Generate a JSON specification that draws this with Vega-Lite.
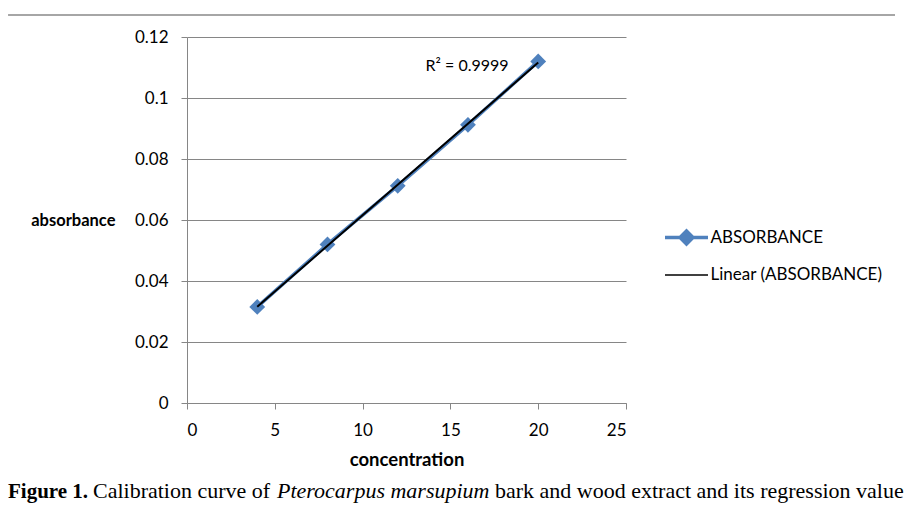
{
  "$schema": "https://vega.github.io/schema/vega-lite/v6.json",
  "width": 439,
  "height": 366,
  "autosize": {"type": "none"},
  "padding": {"left": 187, "top": 37, "right": 282, "bottom": 107},
  "background": "white",
  "config": {"view": {"stroke": null}},
  "layer": [
    {
      "data": {"values": [
        {"concentration": 4, "absorbance": 0.0315, "series": "ABSORBANCE"},
        {"concentration": 8, "absorbance": 0.052, "series": "ABSORBANCE"},
        {"concentration": 12, "absorbance": 0.0712, "series": "ABSORBANCE"},
        {"concentration": 16, "absorbance": 0.0912, "series": "ABSORBANCE"},
        {"concentration": 20, "absorbance": 0.112, "series": "ABSORBANCE"}
      ]},
      "layer": [
        {
          "mark": {"type": "line", "strokeWidth": 3.5, "point": {"shape": "diamond", "size": 250, "filled": true, "opacity": 1}},
          "encoding": {
            "x": {"field": "concentration", "type": "quantitative", "scale": {"domain": [0, 25], "nice": false},
              "axis": {"values": [0, 5, 10, 15, 20, 25], "grid": false, "title": "concentration", "titleFont": "Lato", "titleFontSize": 18.5, "titleFontWeight": "bold", "titleColor": "#000", "titlePadding": 12,
                "labelFont": "Lato", "labelFontSize": 17, "labelColor": "#000", "labelPadding": 13, "tickSize": 6, "tickColor": "#868686", "domainColor": "#868686", "domainWidth": 1}},
            "y": {"field": "absorbance", "type": "quantitative", "scale": {"domain": [0, 0.12], "nice": false},
              "axis": {"values": [0, 0.02, 0.04, 0.06, 0.08, 0.1, 0.12], "format": "~g", "grid": true, "gridColor": "#868686", "gridWidth": 1, "title": "absorbance", "titleAngle": 0, "titleAlign": "right", "titleBaseline": "middle", "titleX": -72, "titleY": 183, "titleFont": "Lato", "titleFontSize": 16.5, "titleFontWeight": "bold", "titleColor": "#000",
                "labelFont": "Lato", "labelFontSize": 17, "labelColor": "#000", "labelPadding": 13, "tickSize": 6, "tickColor": "#868686", "domainColor": "#868686", "domainWidth": 1}},
            "color": {"field": "series", "type": "nominal",
              "scale": {"domain": ["ABSORBANCE", "Linear (ABSORBANCE)"], "range": ["#4F81BD", "#000000"]},
              "legend": {"title": null, "orient": "none", "legendX": 491, "legendY": 192, "padding": 0,
                "symbolSize": 462, "rowPadding": 14.5, "labelOffset": 15.5, "labelFont": "Lato", "labelFontSize": 17, "labelColor": "#000", "labelLimit": 400,
                "symbolType": "M-2,0H2",
                "encode": {"symbols": {"update": {
                  "shape": {"signal": "datum.value === 'ABSORBANCE' ? 'M-2,0H2M0,-0.6L0.6,0L0,0.6L-0.6,0Z' : 'M-2,0H2'"},
                  "strokeWidth": {"signal": "datum.value === 'ABSORBANCE' ? 3.5 : 1.3"},
                  "fill": {"signal": "datum.value === 'ABSORBANCE' ? '#4F81BD' : 'transparent'"},
                  "opacity": {"value": 1}
                }}}}}
          }
        },
        {
          "transform": [{"regression": "absorbance", "on": "concentration"}],
          "mark": {"type": "line", "strokeWidth": 2, "color": "#000"},
          "encoding": {
            "x": {"field": "concentration", "type": "quantitative"},
            "y": {"field": "absorbance", "type": "quantitative"},
            "color": {"datum": "Linear (ABSORBANCE)"}
          }
        }
      ]
    },
    {
      "data": {"values": [{}]},
      "mark": {"type": "text", "font": "Lato", "fontSize": 16, "align": "center", "baseline": "middle", "color": "#000"},
      "encoding": {"x": {"datum": 15.95}, "y": {"datum": 0.1105}, "text": {"value": "R² = 0.9999"}}
    },
    {
      "data": {"values": [{}]},
      "mark": {"type": "rule", "color": "#888888", "strokeWidth": 1.5},
      "encoding": {"x": {"datum": -10.19}, "x2": {"datum": 40.32}, "y": {"datum": 0.1272}}
    },
    {
      "data": {"values": [{}]},
      "mark": {"type": "text", "font": "Liberation Serif", "fontSize": 21, "fontWeight": "bold", "align": "left", "baseline": "alphabetic", "color": "#000"},
      "encoding": {"x": {"datum": -10.194}, "y": {"datum": -0.03115}, "text": {"value": "Figure 1."}}
    },
    {
      "data": {"values": [{}]},
      "mark": {"type": "text", "font": "Liberation Serif", "fontSize": 22, "align": "left", "baseline": "alphabetic", "color": "#000"},
      "encoding": {"x": {"datum": -5.353}, "y": {"datum": -0.03115}, "text": {"value": "Calibration curve of"}}
    },
    {
      "data": {"values": [{}]},
      "mark": {"type": "text", "font": "Liberation Serif", "fontSize": 22, "fontStyle": "italic", "align": "left", "baseline": "alphabetic", "color": "#000"},
      "encoding": {"x": {"datum": 5.125}, "y": {"datum": -0.03115}, "text": {"value": "Pterocarpus marsupium"}}
    },
    {
      "data": {"values": [{}]},
      "mark": {"type": "text", "font": "Liberation Serif", "fontSize": 22, "align": "left", "baseline": "alphabetic", "color": "#000"},
      "encoding": {"x": {"datum": 17.54}, "y": {"datum": -0.03115}, "text": {"value": "bark and wood extract and its regression value"}}
    }
  ]
}
